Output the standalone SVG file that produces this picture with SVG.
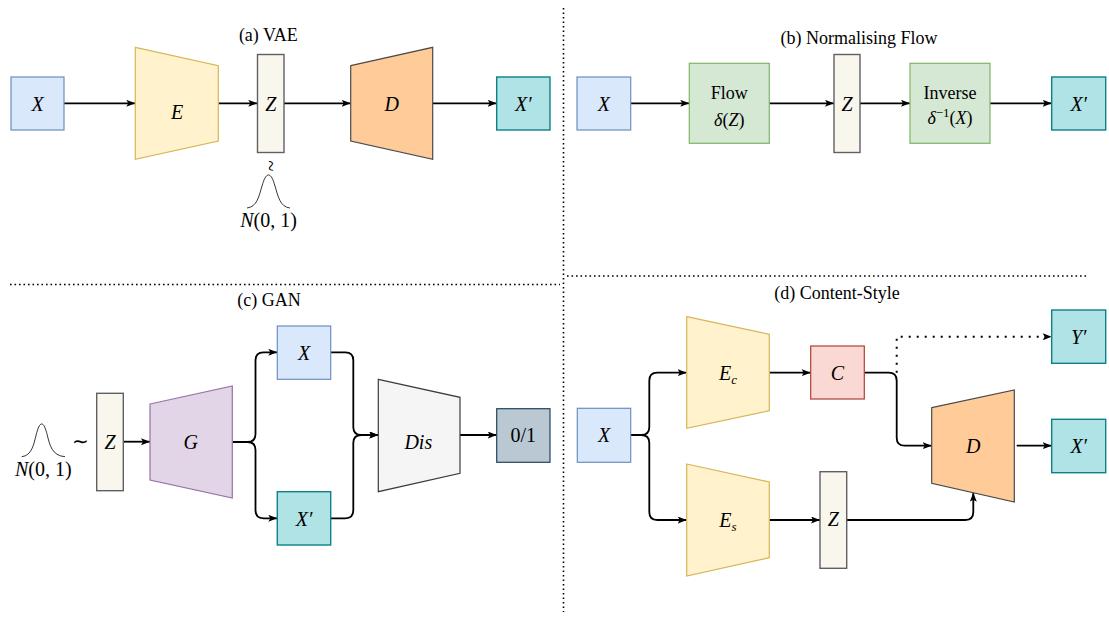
<svg xmlns="http://www.w3.org/2000/svg" width="1109" height="617" viewBox="0 0 1109 617">
  <style>
    text { font-family: "Liberation Serif", "Times New Roman", serif; fill: #000; }
    .title { font-size: 18px; text-anchor: middle; }
    .m { font-size: 20px; font-style: italic; text-anchor: middle; }
    .txt { font-size: 18px; text-anchor: middle; }
    .up { font-style: normal; }
    .blue { fill: #dae8fc; stroke: #6c8ebf; stroke-width: 1.2; }
    .yellow { fill: #fff2cc; stroke: #d6b656; stroke-width: 1.2; }
    .latent { fill: #f9f7ed; stroke: #5f6063; stroke-width: 1.4; }
    .orange { fill: #ffcc99; stroke: #4a4a4a; stroke-width: 1.2; }
    .teal { fill: #b0e3e6; stroke: #0e8088; stroke-width: 1.4; }
    .green { fill: #d5e8d4; stroke: #82b366; stroke-width: 1.2; }
    .purple { fill: #e1d5e7; stroke: #9673a6; stroke-width: 1.2; }
    .grey { fill: #f5f5f5; stroke: #3c3c3c; stroke-width: 1.2; }
    .slate { fill: #bac8d3; stroke: #23445d; stroke-width: 1.2; }
    .red { fill: #fad9d5; stroke: #ae4132; stroke-width: 1.2; }
    .edge { fill: none; stroke: #000; stroke-width: 1.8; }
    .dotted { fill: none; stroke: #000; stroke-width: 2; stroke-dasharray: 2 6; }
    .divider { fill: none; stroke: #000; stroke-width: 1.6; stroke-dasharray: 1.6 2.9; }
    .bell { fill: none; stroke: #000; stroke-width: 0.8; }
  </style>
  <defs>
    <marker id="arrow" markerUnits="userSpaceOnUse" markerWidth="10" markerHeight="8" refX="9" refY="3.5" orient="auto">
      <path d="M0,0 L9,3.5 L0,7 L2,3.5 z" fill="#000"/>
    </marker>
  </defs>

  <!-- panel dividers -->
  <g id="dividers">
    <line class="divider" x1="563.5" y1="8" x2="563.5" y2="612"/>
    <line class="divider" x1="10" y1="284.5" x2="560" y2="284.5"/>
    <line class="divider" x1="567" y1="276" x2="1088" y2="276"/>
  </g>

  <!-- panel titles -->
  <g id="titles">
    <text class="title" x="268.3" y="40.5">(a) VAE</text>
    <text class="title" x="859" y="43.5">(b) Normalising Flow</text>
    <text class="title" x="269" y="306">(c) GAN</text>
    <text class="title" x="837" y="299">(d) Content-Style</text>
  </g>

  <!-- connectors -->
  <g id="connectors">
    <!-- (a) VAE -->
    <path class="edge" d="M64,103.3 H135.3" marker-end="url(#arrow)"/>
    <path class="edge" d="M218.3,103.3 H257.3" marker-end="url(#arrow)"/>
    <path class="edge" d="M284,103.3 H350.7" marker-end="url(#arrow)"/>
    <path class="edge" d="M432.7,103.3 H496.7" marker-end="url(#arrow)"/>
    <!-- (b) normalising flow -->
    <path class="edge" d="M630.7,103.3 H689.3" marker-end="url(#arrow)"/>
    <path class="edge" d="M769.3,103.3 H834" marker-end="url(#arrow)"/>
    <path class="edge" d="M860,103.3 H910" marker-end="url(#arrow)"/>
    <path class="edge" d="M990,103.3 H1051.7" marker-end="url(#arrow)"/>
    <!-- (c) GAN -->
    <path class="edge" d="M123.3,441.7 H150" marker-end="url(#arrow)"/>
    <path class="edge" d="M232.3,442 H247.5 Q255.5,442 255.5,434 V360.3 Q255.5,352.3 263.5,352.3 H277.3" marker-end="url(#arrow)"/>
    <path class="edge" d="M232.3,442 H247.5 Q255.5,442 255.5,450 V510.3 Q255.5,518.3 263.5,518.3 H277.3" marker-end="url(#arrow)"/>
    <path class="edge" d="M330.7,352.3 H345.3 Q353.3,352.3 353.3,360.3 V427 Q353.3,435 361.3,435 H378.3" marker-end="url(#arrow)"/>
    <path class="edge" d="M330.7,518.3 H345.3 Q353.3,518.3 353.3,510.3 V443 Q353.3,435 361.3,435 H378.3" marker-end="url(#arrow)"/>
    <path class="edge" d="M460,435 H496.7" marker-end="url(#arrow)"/>
    <!-- (d) content-style -->
    <path class="edge" d="M630.7,435 H641.3 Q649.3,435 649.3,427 V380.7 Q649.3,372.7 657.3,372.7 H686.7" marker-end="url(#arrow)"/>
    <path class="edge" d="M630.7,435 H641.3 Q649.3,435 649.3,443 V512 Q649.3,520 657.3,520 H686.7" marker-end="url(#arrow)"/>
    <path class="edge" d="M769.3,372.7 H810.7" marker-end="url(#arrow)"/>
    <path class="edge" d="M769.3,520 H820" marker-end="url(#arrow)"/>
    <path class="edge" d="M864.3,372.7 H888.7 Q896.7,372.7 896.7,380.7 V437.7 Q896.7,445.7 904.7,445.7 H931.7" marker-end="url(#arrow)"/>
    <path class="dotted" d="M896.7,372.7 V336.7 H1051.7"/>
    <path d="M1042.7,333.2 L1051.7,336.7 L1042.7,340.2 L1044.7,336.7 z" fill="#000"/>
    <path class="edge" d="M846.7,520 H965.3 Q973.3,520 973.3,512 V492.7" marker-end="url(#arrow)"/>
    <path class="edge" d="M1016.7,445.7 H1051.7" marker-end="url(#arrow)"/>
  </g>

  <!-- (a) VAE nodes -->
  <g id="vae-x">
    <rect class="blue" x="11" y="77" width="53" height="53"/>
    <text class="m" x="37.5" y="110.5">X</text>
  </g>
  <g id="vae-encoder">
    <polygon class="yellow" points="135.3,47.3 218.3,65.7 218.3,141 135.3,159.3"/>
    <text class="m" x="177" y="118.5">E</text>
  </g>
  <g id="vae-z">
    <rect class="latent" x="257.5" y="54.5" width="26.5" height="98"/>
    <text class="m" x="270.7" y="110.5">Z</text>
  </g>
  <g id="vae-prior">
    <!-- rotated tilde: "is distributed as" -->
    <text x="0" y="0" font-size="20" text-anchor="middle" transform="translate(268.5 166) rotate(90) translate(0 5)">~</text>
    <path class="bell" d="M247,208 C257,207 259,196 262,186 C264,179 266,175 268.5,175 C271,175 273,179 275,186 C278,196 280,207 290,208"/>
    <text class="m" x="268.5" y="227"><tspan>N</tspan><tspan class="up">(0, 1)</tspan></text>
  </g>
  <g id="vae-decoder">
    <polygon class="orange" points="350.7,65.7 432.7,47.3 432.7,159.3 350.7,141"/>
    <text class="m" x="391.7" y="110.5">D</text>
  </g>
  <g id="vae-xprime">
    <rect class="teal" x="496.7" y="77" width="53.3" height="53"/>
    <text class="m" x="523.3" y="110.5">X′</text>
  </g>

  <!-- (b) normalising flow nodes -->
  <g id="flow-x">
    <rect class="blue" x="577" y="77" width="53.7" height="53"/>
    <text class="m" x="603.8" y="110.5">X</text>
  </g>
  <g id="flow-forward">
    <rect class="green" x="689.3" y="63.3" width="80" height="80"/>
    <text class="txt" x="729.3" y="99">Flow</text>
    <text class="txt" x="729.3" y="125.5" font-size="20"><tspan font-style="italic">δ</tspan>(<tspan font-style="italic">Z</tspan>)</text>
  </g>
  <g id="flow-z">
    <rect class="latent" x="834" y="54.5" width="26" height="98"/>
    <text class="m" x="847" y="110.5">Z</text>
  </g>
  <g id="flow-inverse">
    <rect class="green" x="910" y="63.3" width="80" height="80"/>
    <text class="txt" x="950" y="99">Inverse</text>
    <text class="txt" x="950" y="124" font-size="20"><tspan font-style="italic">δ</tspan><tspan font-size="13" dy="-7">−1</tspan><tspan dy="7">(</tspan><tspan font-style="italic">X</tspan>)</text>
  </g>
  <g id="flow-xprime">
    <rect class="teal" x="1051.7" y="77" width="54" height="53"/>
    <text class="m" x="1078.7" y="110.5">X′</text>
  </g>

  <!-- (c) GAN nodes -->
  <g id="gan-prior">
    <path class="bell" d="M21.7,456.7 C31.7,455.7 33.7,444.7 36.2,434.7 C38,428 39.5,424 41.7,424 C43.9,424 45.4,428 47.2,434.7 C49.7,444.7 51.7,455.7 65,456.7"/>
    <text class="m" x="43.3" y="475.7"><tspan>N</tspan><tspan class="up">(0, 1)</tspan></text>
    <text x="80" y="447.5" font-size="20" text-anchor="middle">∼</text>
  </g>
  <g id="gan-z">
    <rect class="latent" x="96.7" y="393.3" width="26.6" height="97.4"/>
    <text class="m" x="110" y="449">Z</text>
  </g>
  <g id="gan-generator">
    <polygon class="purple" points="150,404 232.3,386 232.3,498 150,480"/>
    <text class="m" x="190.7" y="449">G</text>
  </g>
  <g id="gan-x">
    <rect class="blue" x="277.3" y="326" width="53.4" height="53.3"/>
    <text class="m" x="304" y="359.5">X</text>
  </g>
  <g id="gan-xprime">
    <rect class="teal" x="277.3" y="491.7" width="53.4" height="53.3"/>
    <text class="m" x="304" y="525.5">X′</text>
  </g>
  <g id="gan-discriminator">
    <polygon class="grey" points="378.3,379.3 460,397.3 460,473.3 378.3,491.7"/>
    <text class="m" x="418.3" y="449">Dis</text>
  </g>
  <g id="gan-output">
    <rect class="slate" x="496.7" y="408.7" width="53.3" height="53.6"/>
    <text class="m up" x="523.3" y="442">0/1</text>
  </g>

  <!-- (d) content-style nodes -->
  <g id="cs-x">
    <rect class="blue" x="577.3" y="408.3" width="53.4" height="54"/>
    <text class="m" x="604" y="442">X</text>
  </g>
  <g id="cs-content-encoder">
    <polygon class="yellow" points="686.7,316.7 769.3,334.3 769.3,410.7 686.7,428.3"/>
    <text class="m" x="728" y="380">E<tspan font-size="13" dy="3.5">c</tspan></text>
  </g>
  <g id="cs-style-encoder">
    <polygon class="yellow" points="686.7,464 769.3,482 769.3,557.7 686.7,576"/>
    <text class="m" x="728" y="527">E<tspan font-size="13" dy="3.5">s</tspan></text>
  </g>
  <g id="cs-c">
    <rect class="red" x="810.7" y="346" width="53.6" height="53"/>
    <text class="m" x="837.5" y="379.5">C</text>
  </g>
  <g id="cs-z">
    <rect class="latent" x="820" y="471.7" width="26.7" height="96.6"/>
    <text class="m" x="833.3" y="526">Z</text>
  </g>
  <g id="cs-decoder">
    <polygon class="orange" points="931.7,407.7 1014.3,390 1014.3,502 931.7,483.3"/>
    <text class="m" x="973.3" y="452.7">D</text>
  </g>
  <g id="cs-yprime">
    <rect class="teal" x="1051.7" y="310" width="54" height="53.3"/>
    <text class="m" x="1078.7" y="343.5">Y′</text>
  </g>
  <g id="cs-xprime">
    <rect class="teal" x="1051.7" y="419.3" width="54" height="53.4"/>
    <text class="m" x="1078.7" y="452.7">X′</text>
  </g>
</svg>
